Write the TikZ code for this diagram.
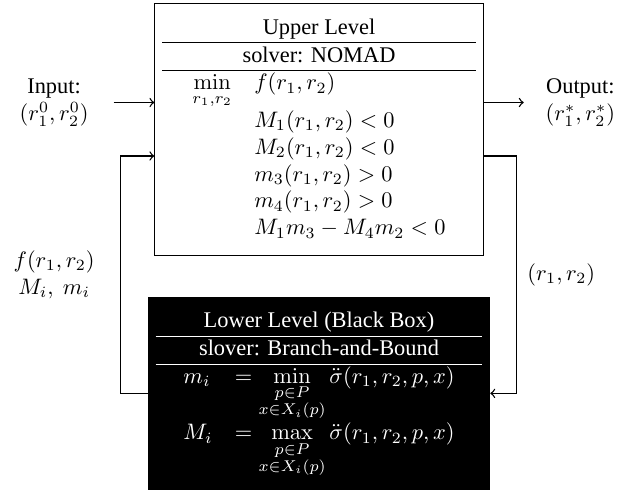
\documentclass[tikz,border=0pt]{standalone}
\usepackage[no-math]{fontspec}
\setmainfont{Liberation Serif}
\usepackage{amsmath}
\usepackage{amssymb}
\usepackage{tikz}
\usetikzlibrary{positioning}
\usetikzlibrary{calc}

\begin{document}
\begin{tikzpicture}[>=to, flow/.style={->, semithick}]
    \useasboundingbox (0,0) rectangle (10.02,-7.71);

    \node [draw, inner ysep=5.4pt] (upper) at (5.01,-2.03) {\setlength{\tabcolsep}{8.5pt}\begin{tabular}{c}
        Upper Level\\ \hline
        solver: NOMAD\\ \hline
        $\begin{array}{ll}
            \min\limits_{r_1,r_2} & f(r_1,r_2)\\
            & M_1(r_1,r_2)<0\\
            & M_2(r_1,r_2)<0\\
            & m_3(r_1,r_2)>0\\
            & m_4(r_1,r_2)>0\\
            & M_1m_3-M_4m_2<0
        \end{array}$
    \end{tabular}};
    \node [fill=black, text=white, inner ysep=5.6pt, below=0.64cm of upper] (lower) {\setlength{\tabcolsep}{7.4pt}\begin{tabular}{c}
        Lower Level (Black Box)\\ \hline
        slover: Branch-and-Bound\\ \hline
        $\begin{array}{ll}
            m_i & = \min\limits_{\substack{p\in P\\ x\in X_i(p)}} \ddot{\sigma}(r_1,r_2,p,x)\\[1pt]
            M_i & = \max\limits_{\substack{p\in P\\ x\in X_i(p)}} \ddot{\sigma}(r_1,r_2,p,x)
        \end{array}$
    \end{tabular}};

    \coordinate (in) at ($(upper.west)+(-0.64,0.42)$);
    \coordinate (out) at ($(upper.east)+(0.63,0.42)$);
    \coordinate (fbl) at ($(upper.west)+(-0.53,-0.42)$);
    \coordinate (fbr) at ($(upper.east)+(0.52,-0.42)$);

    \node [left=0.27cm of in, align=center] (input) {Input:\\$(r_1^0,r_2^0)$};
    \node [right=0.22cm of out, align=center] (output) {Output:\\$(r_1^*,r_2^*)$};

    \draw [flow] (in) -- (in -| upper.west);
    \draw [flow] (upper.east |- out) -- (out);
    \draw [flow] (lower.west) -| (fbl) node [pos=0.75, left=2.8mm, align=center] {$f(r_1,r_2)$\\$M_i,\ m_i$} -- (fbl -| upper.west);
    \draw [flow] (fbr -| upper.east) -- (fbr) |- (lower.east) node [pos=0.25, right=0.4mm] {$(r_1,r_2)$};
\end{tikzpicture}
\end{document}
